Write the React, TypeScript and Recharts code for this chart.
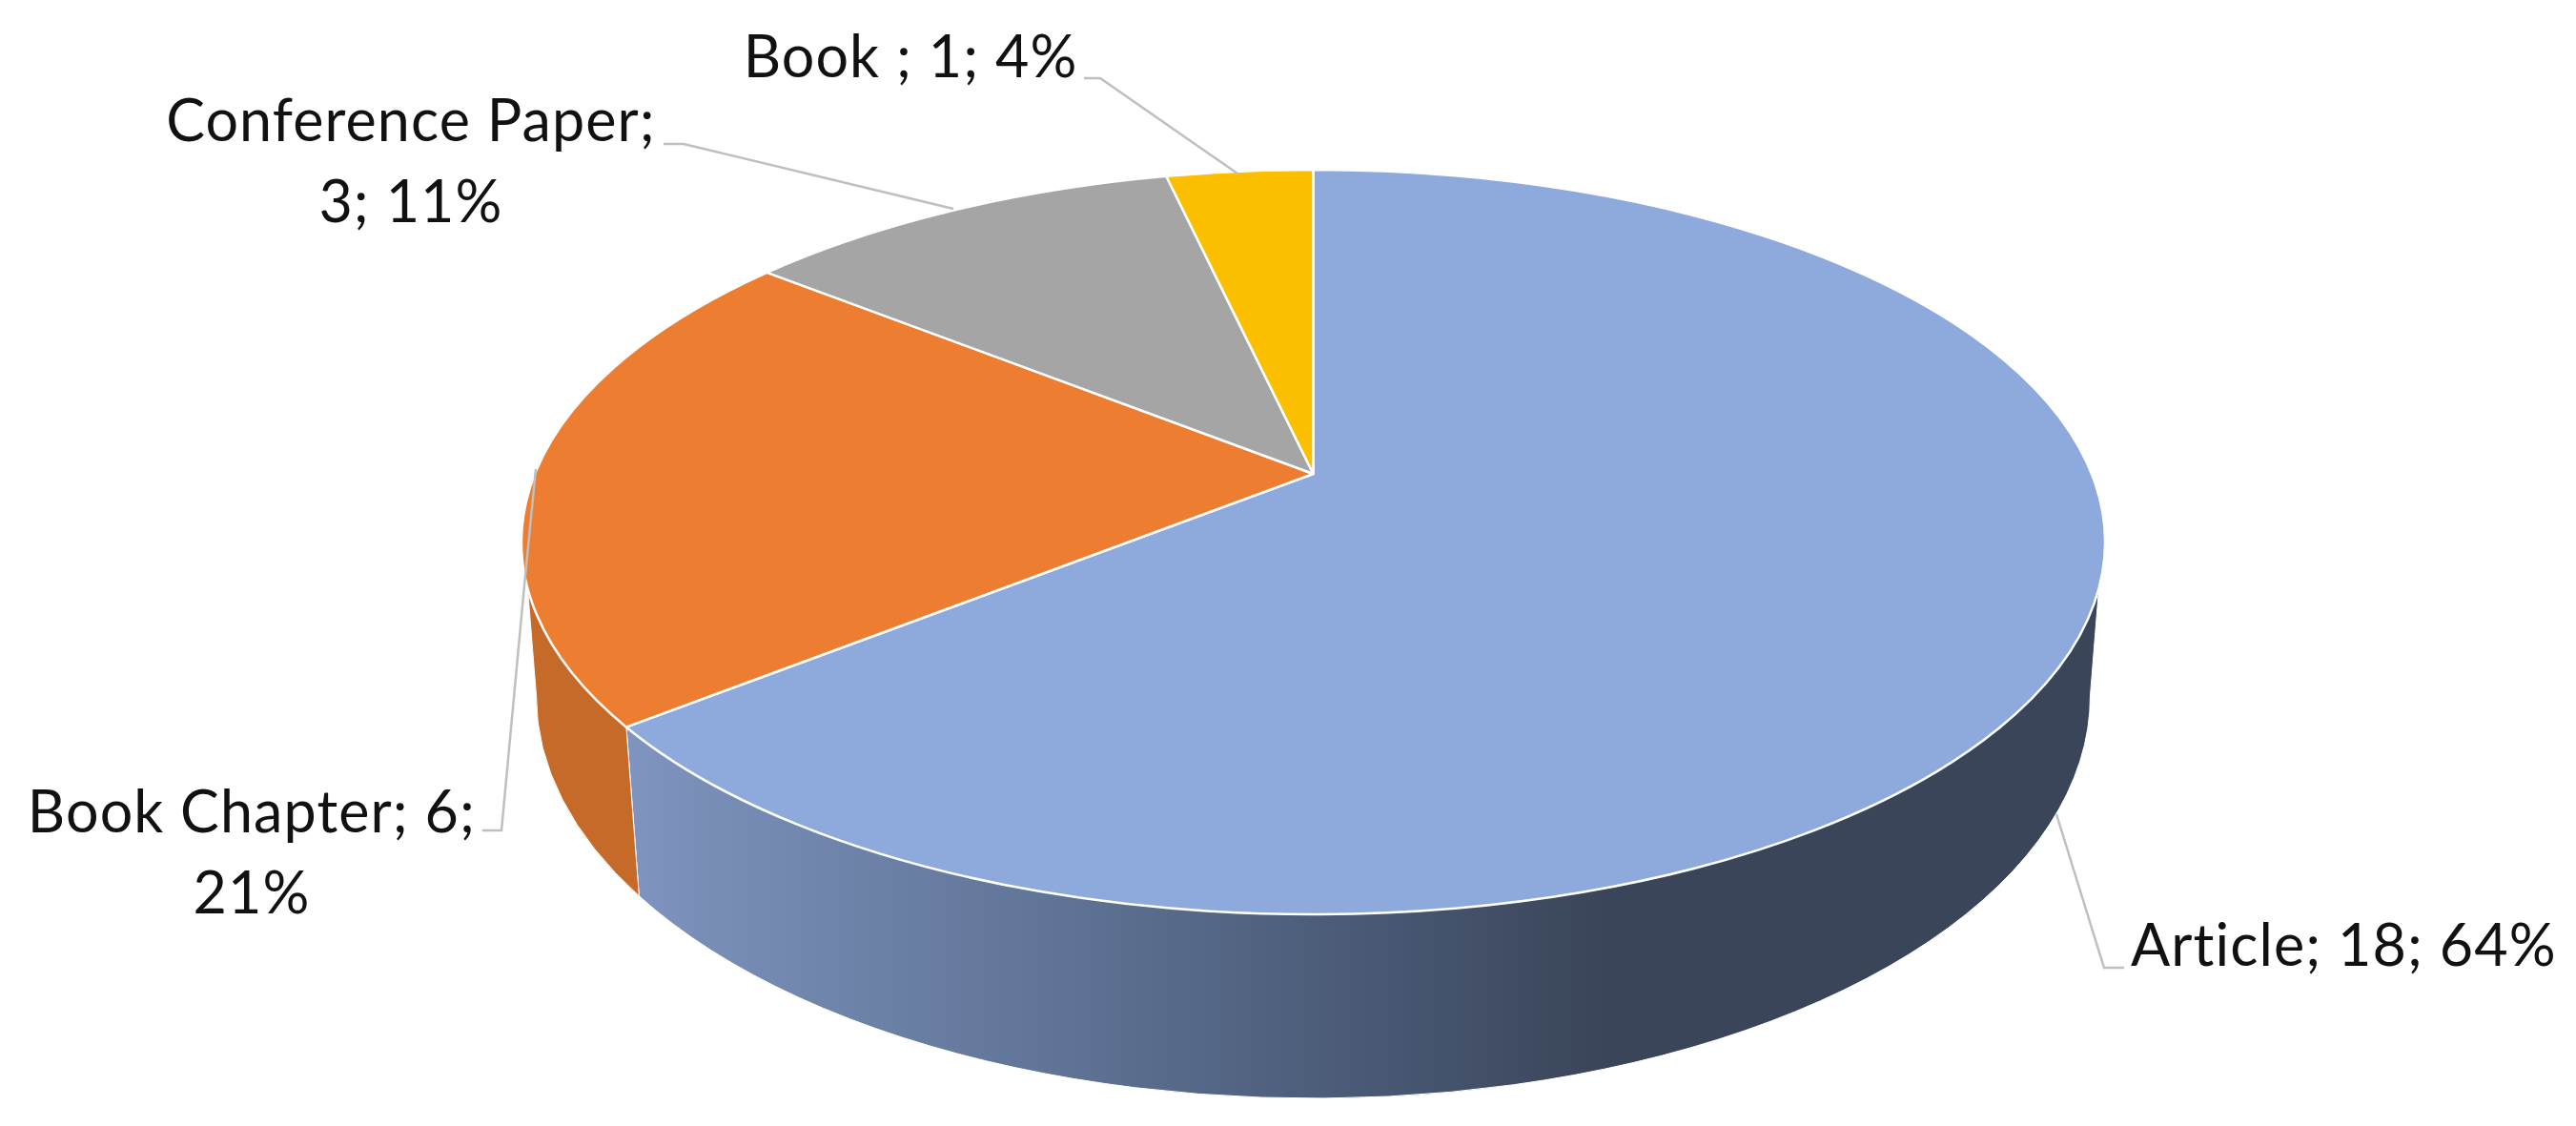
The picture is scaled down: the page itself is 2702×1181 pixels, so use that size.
import { PieChart, Pie } from "recharts";

const categories = ["Article", "Book Chapter", "Conference Paper", "Book "];
const counts = [18, 6, 3, 1];

const topColors = ["#8ea9db", "#ec7d31", "#a5a5a5", "#fbbf00"];
const wallColors = ["url(#articleWall)", "#c66a2a", "#7c7c7c", "#bf9000"];

const chartData = categories.map((name, i) => ({ name, value: counts[i] }));

const WIDTH = 2702;
const HEIGHT = 1181;
const FONT = "Lato, Carlito, sans-serif";
const FONT_SIZE = 61;
const LETTER_SPACING = 1.1;
const LINE_HEIGHT = 85;

// ellipses of the top face and of the bottom rim, as the tilted pie shows them
const CX = 1377.5;
const CY = 568.5;
const RADIUS = 830.5;
const SQUASH = 390.5 / 830.5;
const TILT = 0.183;
const RIM_CY = 730;
const RIM_RX = 815;
const RIM_RY = 422;

// label placement: text anchor per line, tokens on line one, leader polyline
const labelLayout = [
  { x: 2235, y: 1013, anchor: "start", tokens: 3, leader: "2157,854 2207,1015 2228,1015" },
  { x: 264, y: 873, anchor: "middle", tokens: 2, leader: "562,492 550,614 526,871 506,871" },
  { x: 431, y: 148, anchor: "middle", tokens: 1, leader: "1000,219 717,151 696,151" },
  { x: 955, y: 81, anchor: "middle", tokens: 3, leader: "1298,182 1154,82 1137,82" },
];

/** maps an angle (degrees clockwise from 12 o'clock) onto a tilted ellipse */
function project(deg: number) {
  const t = (deg * Math.PI) / 180;
  const d = 1 + TILT * Math.cos(t);
  return {
    nx: (Math.sin(t) * Math.sqrt(1 - TILT * TILT)) / d,
    ny: (Math.cos(t) + TILT) / d,
  };
}

const topPoint = (deg: number, r: number) => {
  const p = project(deg);
  return `${CX + r * p.nx} ${CY - r * SQUASH * p.ny}`;
};

const rimPoint = (deg: number) => {
  const p = project(deg);
  return `${CX + RIM_RX * p.nx} ${RIM_CY - RIM_RY * p.ny}`;
};

function isLargeArc(from: number, to: number) {
  const a = project(from);
  const b = project(to);
  let diff = Math.atan2(b.nx, b.ny) - Math.atan2(a.nx, a.ny);
  if (diff < 0) diff += Math.PI * 2;
  return diff > Math.PI ? 1 : 0;
}

function TopSlice(props: any) {
  const { startAngle, endAngle, outerRadius, index } = props;
  const s = 90 - startAngle;
  const e = 90 - endAngle;
  const r = outerRadius;
  const d = `M ${CX} ${CY - r * SQUASH * TILT} L ${topPoint(s, r)} A ${r} ${r * SQUASH} 0 ${isLargeArc(s, e)} 1 ${topPoint(e, r)} Z`;
  return <path d={d} fill={topColors[index]} stroke="#fff" strokeWidth={2.5} strokeLinejoin="round" />;
}

// front side of the pie only, back slices have no visible wall
function WallSlice(props: any) {
  const { startAngle, endAngle, outerRadius, index } = props;
  const s = 90 - startAngle;
  const e = 90 - endAngle;
  const r = outerRadius;
  if (e <= 107.5 || s >= 252.5) return <g />;
  const topStart = Math.max(s, 107.5);
  const topEnd = Math.min(e, 252.5);
  const rimStart = s < 107.5 ? 100.5 : s;
  const rimEnd = e > 252.5 ? 259.5 : e;
  const d = [
    `M ${topPoint(topStart, r)}`,
    `A ${r} ${r * SQUASH} 0 ${isLargeArc(topStart, topEnd)} 1 ${topPoint(topEnd, r)}`,
    `L ${rimPoint(rimEnd)}`,
    `A ${RIM_RX} ${RIM_RY} 0 ${isLargeArc(rimStart, rimEnd)} 0 ${rimPoint(rimStart)}`,
    "Z",
  ].join(" ");
  return <path d={d} fill={wallColors[index]} stroke="#fff" strokeWidth={1} />;
}

function SliceLabel(props: any) {
  const { index, name, value, percent } = props;
  const layout = labelLayout[index];
  const parts = [name, value, `${Math.round(percent * 100)}%`];
  const lines = [
    parts.slice(0, layout.tokens).join("; ") + (layout.tokens < 3 ? ";" : ""),
    parts.slice(layout.tokens).join("; "),
  ].filter(Boolean);
  return (
    <g>
      <polyline points={layout.leader} fill="none" stroke="#bfbfbf" strokeWidth={2.5} />
      {lines.map((line, i) => (
        <text
          key={i}
          x={layout.x}
          y={layout.y + i * LINE_HEIGHT}
          textAnchor={layout.anchor as any}
          fontFamily={FONT}
          fontSize={FONT_SIZE}
          letterSpacing={LETTER_SPACING}
          fill="#111"
          style={{ whiteSpace: "pre" }}
        >
          {line}
        </text>
      ))}
    </g>
  );
}

export default function App() {
  return (
    <div style={{ position: "absolute", left: 0, top: 0, width: WIDTH, height: HEIGHT, background: "#fff" }}>
      <PieChart width={WIDTH} height={HEIGHT} margin={{ top: 0, right: 0, bottom: 0, left: 0 }}>
        <defs>
          <linearGradient id="articleWall" gradientUnits="userSpaceOnUse" x1="654" y1="0" x2="1680" y2="0">
            <stop offset="0%" stopColor="#7f94bf" />
            <stop offset="45%" stopColor="#5f7395" />
            <stop offset="75%" stopColor="#4a5a76" />
            <stop offset="100%" stopColor="#3a4559" />
          </linearGradient>
        </defs>
        <Pie
          data={chartData}
          dataKey="value"
          nameKey="name"
          cx={CX}
          cy={CY}
          outerRadius={RADIUS}
          startAngle={90}
          endAngle={-270}
          shape={WallSlice}
          label={false}
          isAnimationActive={false}
        />
        <Pie
          data={chartData}
          dataKey="value"
          nameKey="name"
          cx={CX}
          cy={CY}
          outerRadius={RADIUS}
          startAngle={90}
          endAngle={-270}
          shape={TopSlice}
          label={SliceLabel}
          labelLine={false}
          isAnimationActive={false}
        />
      </PieChart>
    </div>
  );
}
